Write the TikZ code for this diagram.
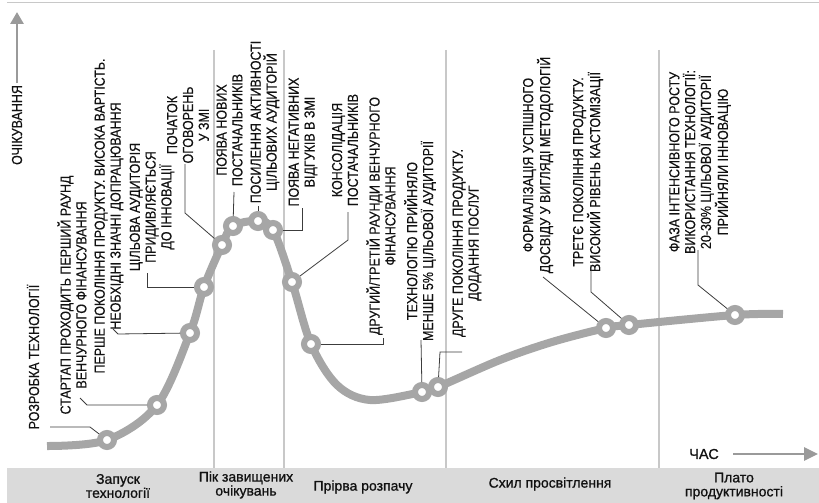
\documentclass[tikz,border=0pt]{standalone}
\usepackage{fontspec}
\setmainfont{Liberation Sans}
\newfontfamily\narrowfont[FakeStretch=0.86,FakeBold=0.4]{Liberation Sans}
\newfontfamily\bandfont[FakeBold=0.9]{Liberation Sans}
\usetikzlibrary{arrows.meta}
\definecolor{curvegray}{HTML}{A6A6A6}
\definecolor{sepgray}{HTML}{C8C8C8}
\definecolor{bandgray}{HTML}{DADADA}
\definecolor{leadgray}{HTML}{3C3C3C}
\definecolor{txt}{HTML}{111111}
\definecolor{arrowgray}{HTML}{9A9A9A}
\begin{document}
\begin{tikzpicture}[x=1pt,y=-1pt,
  lbl/.style={rotate=90, align=center, font=\narrowfont\fontsize{14.5}{15.8}\selectfont, text=txt, inner sep=0pt},
  band/.style={align=center, font=\bandfont\fontsize{14}{14}\selectfont, text=txt, inner sep=0pt},
  dot/.style={circle, draw=curvegray, fill=white, line width=6pt, minimum size=14pt, inner sep=0pt},
  lead/.style={draw=leadgray, line width=0.8pt},
  sep/.style={draw=sepgray, line width=1.3pt},
  axisarrow/.style={draw=arrowgray, line width=2.8pt},
]
\useasboundingbox (0,0) rectangle (819,503);
% frame pieces
\draw[draw=sepgray, line width=1pt] (7,3) -- (819,3);
\fill[bandgray] (7,468) rectangle (819,503);
% separators
\foreach \sx/\nm in {214/s1,284/s2,446/s3,659/s4}{
  \coordinate (\nm a) at (\sx,50);
  \coordinate (\nm b) at (\sx,468);
  \draw[sep] (\nm a) -- (\nm b);
}
% axes
\coordinate (va1) at (17,83);
\coordinate (va2) at (17,12);
\draw[axisarrow, -{Triangle[length=12pt,width=13pt]}] (va1) -- (va2);
\node[lbl] (yl) at (17,125) {ОЧІКУВАННЯ};
\coordinate (ha1) at (733,454);
\coordinate (ha2) at (818,454);
\draw[axisarrow, -{Triangle[length=14pt,width=13pt]}] (ha1) -- (ha2);
\node[font=\bandfont\fontsize{14.5}{14.5}\selectfont, text=txt, inner sep=0pt] (xl) at (704,454) {ЧАС};
% curve points
\coordinate (q0) at (47,446);
\coordinate (q1) at (107,440);
\coordinate (q2) at (157,405);
\coordinate (q3) at (190,333);
\coordinate (q4) at (204,287);
\coordinate (q5) at (222,245);
\coordinate (q6) at (233,226);
\coordinate (q7) at (258,221);
\coordinate (q8) at (273,230);
\coordinate (q9) at (292,282);
\coordinate (q10) at (311,344);
\coordinate (m1) at (337,385);
\coordinate (m2) at (370,400);
\coordinate (q11) at (422,392);
\coordinate (q12) at (438,387);
\coordinate (m3) at (500,360);
\coordinate (m4) at (552,342);
\coordinate (q13) at (606,328);
\coordinate (q14) at (629,325);
\coordinate (q15) at (735,315);
\coordinate (qe) at (783,314);
\draw[curvegray, line width=8pt] plot[smooth, tension=0.55] coordinates {(q0) (q1) (q2) (q3) (q4) (q5) (q6) (q7) (q8) (q9) (q10) (m1) (m2) (q11) (q12) (m3) (m4) (q13) (q14) (q15) (qe)};
\foreach \i in {1,...,15}{ \node[dot] (c\i) at (q\i) {}; }
% labels
\node[lbl] (t1) at (33,357) {РОЗРОБКА ТЕХНОЛОГІЇ};
\node[lbl] (t2) at (72,295) {СТАРТАП ПРОХОДИТЬ ПЕРШИЙ РАУНД\\ВЕНЧУРНОГО ФІНАНСУВАННЯ};
\node[lbl] (t3) at (109,216) {ПЕРШЕ ПОКОЛІННЯ ПРОДУКТУ. ВИСОКА ВАРТІСТЬ.\\НЕОБХІДНІ ЗНАЧНІ ДОПРАЦЮВАННЯ};
\node[lbl] (t4) at (152,207) {ЦІЛЬОВА АУДИТОРІЯ\\ПРИДИВЛЯЄТЬСЯ\\ДО ІННОВАЦІЇ};
\node[lbl] (t5) at (188,125) {ПОЧАТОК\\ОГОВОРЕНЬ\\У ЗМІ};
\node[lbl] (t6) at (229.5,130) {ПОЯВА НОВИХ\\ПОСТАЧАЛЬНИКІВ};
\node[lbl] (t7) at (265,122) {ПОСИЛЕННЯ АКТИВНОСТІ\\ЦІЛЬОВИХ АУДИТОРІЙ};
\node[lbl] (t8) at (303,142) {ПОЯВА НЕГАТИВНИХ\\ВІДГУКІВ В ЗМІ};
\node[lbl] (t9) at (345,150) {КОНСОЛІДАЦІЯ\\ПОСТАЧАЛЬНИКІВ};
\node[lbl] (t10) at (381,216) {ДРУГИЙ/ТРЕТІЙ РАУНДИ ВЕНЧУРНОГО\\ФІНАНСУВАННЯ};
\node[lbl] (t11) at (420,241) {ТЕХНОЛОГІЮ ПРИЙНЯЛО\\МЕНШЕ 5\% ЦІЛЬОВОЇ АУДИТОРІЇ};
\node[lbl] (t12) at (467,243) {ДРУГЕ ПОКОЛІННЯ ПРОДУКТУ.\\ДОДАННЯ ПОСЛУГ};
\node[lbl] (t13) at (538,165) {ФОРМАЛІЗАЦІЯ УСПІШНОГО\\ДОСВІДУ У ВИГЛЯДІ МЕТОДОЛОГІЙ};
\node[lbl] (t14) at (588,172) {ТРЕТЄ ПОКОЛІННЯ ПРОДУКТУ.\\ВИСОКИЙ РІВЕНЬ КАСТОМІЗАЦІЇ};
\node[lbl] (t15) at (700,162) {ФАЗА ІНТЕНСИВНОГО РОСТУ\\ВИКОРИСТАННЯ ТЕХНОЛОГІЇ:\\20-30\% ЦІЛЬОВОЇ АУДИТОРІЇ\\ПРИЙНЯЛИ ІННОВАЦІЮ};
% leaders
\coordinate (l1a) at (50,427); \coordinate (l1b) at (90,427);
\draw[lead] (l1a) -- (l1b) -- (c1);
\coordinate (l2a) at (80,398); \coordinate (l2b) at (87,405);
\draw[lead] (l2a) -- (l2b) -- (c2);
\coordinate (l3a) at (113,329); \coordinate (l3b) at (118,334);
\draw[lead] (l3a) -- (l3b) -- (c3);
\coordinate (l4a) at (147,273); \coordinate (l4b) at (147,287);
\draw[lead] (l4a) -- (l4b) -- (c4);
\coordinate (l5a) at (185,164); \coordinate (l5b) at (185,213);
\draw[lead] (l5a) -- (l5b) -- (c5);
\coordinate (l6a) at (234,192);
\draw[lead] (l6a) -- (c6);
\coordinate (l7a) at (258,206);
\draw[lead] (l7a) -- (c7);
\coordinate (l8a) at (302,208); \coordinate (l8b) at (302,230);
\draw[lead] (l8a) -- (l8b) -- (c8);
\coordinate (l9a) at (348,212); \coordinate (l9b) at (348,240);
\draw[lead] (l9a) -- (l9b) -- (c9);
\coordinate (l10a) at (383,338); \coordinate (l10b) at (383,344);
\draw[lead] (l10a) -- (l10b) -- (c10);
\coordinate (l11a) at (421,340);
\draw[lead] (l11a) -- (c11);
\coordinate (l12a) at (462,352); \coordinate (l12b) at (440,352);
\draw[lead] (l12a) -- (l12b) -- (c12);
\coordinate (l13a) at (543,277);
\draw[lead] (l13a) -- (c13);
\coordinate (l14a) at (591,265); \coordinate (l14b) at (591,292);
\draw[lead] (l14a) -- (l14b) -- (c14);
\coordinate (l15a) at (698,250); \coordinate (l15b) at (698,285);
\draw[lead] (l15a) -- (l15b) -- (c15);
% band labels
\node[band] (b1) at (118,486) {Запуск\\технології};
\node[band] (b2) at (246,485) {Пік завищених\\очікувань};
\node[band] (b3) at (363,487) {Прірва розпачу};
\node[band] (b4) at (550,484) {Схил просвітлення};
\node[band] (b5) at (734,486) {Плато\\продуктивності};
\end{tikzpicture}
\end{document}
